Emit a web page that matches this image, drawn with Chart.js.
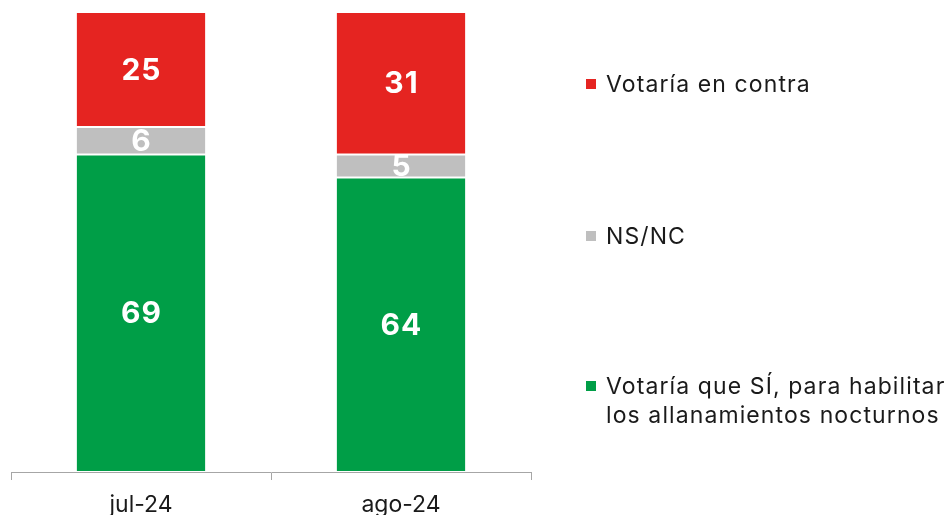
<!DOCTYPE html>
<html>
<head>
<meta charset="utf-8">
<script src="https://cdn.jsdelivr.net/npm/chart.js@4"></script>
<style>
  html, body { margin: 0; padding: 0; background: #fff; }
  #wrap { width: 949px; height: 515px; }
</style>
</head>
<body>
<div id="wrap"><canvas id="barChart"></canvas></div>
<script>
// data
const categories = ["jul-24", "ago-24"];
const votariaSi = [69, 64];
const nsNc = [6, 5];
const votariaContra = [25, 31];

const labelSi = ["Votaría que SÍ, para habilitar", "los allanamientos nocturnos"];
const labelNs = "NS/NC";
const labelContra = "Votaría en contra";

const FONT = "Inter, 'Open Sans', sans-serif";

// white numbers in the middle of each segment
const valueLabels = {
  id: "valueLabels",
  afterDatasetsDraw(chart) {
    const ctx = chart.ctx;
    ctx.save();
    ctx.fillStyle = "#fff";
    ctx.font = "bold 30px " + FONT;
    ctx.letterSpacing = "1px";
    ctx.textAlign = "center";
    ctx.textBaseline = "middle";
    chart.data.datasets.forEach((ds, i) => {
      chart.getDatasetMeta(i).data.forEach((bar, j) => {
        const y = (bar.y + bar.base) / 2;
        ctx.fillText(ds.data[j], bar.x + 0.5, y + 1);
      });
    });
    ctx.restore();
  }
};

// legend on the right, top item = last dataset
const sideLegend = {
  id: "sideLegend",
  afterDraw(chart) {
    const ctx = chart.ctx;
    const rows = [
      { ds: 2, y: 84 },
      { ds: 1, y: 236 },
      { ds: 0, y: 386 }
    ];
    ctx.save();
    ctx.font = "23px " + FONT;
    ctx.letterSpacing = "1.1px";
    ctx.textBaseline = "middle";
    rows.forEach((r) => {
      const ds = chart.data.datasets[r.ds];
      ctx.fillStyle = ds.backgroundColor;
      ctx.fillRect(586, r.y - 5, 10, 10);
      ctx.fillStyle = "#1a1a1a";
      const lines = Array.isArray(ds.label) ? ds.label : [ds.label];
      lines.forEach((t, k) => {
        ctx.fillText(t, 606, r.y + k * 29 + 1);
      });
    });
    ctx.restore();
  }
};

const ctx = document.getElementById("barChart").getContext("2d");

new Chart(ctx, {
  type: "bar",
  data: {
    labels: categories,
    datasets: [
      { label: labelSi, data: votariaSi, backgroundColor: "#009E47" },
      { label: labelNs, data: nsNc, backgroundColor: "#BFBFBF" },
      { label: labelContra, data: votariaContra, backgroundColor: "#E52421" }
    ].map((d) => ({
      ...d,
      borderColor: "#fff",
      borderWidth: { top: 1, bottom: 1, left: 0, right: 0 },
      borderSkipped: false,
      barPercentage: 0.495,
      categoryPercentage: 1
    }))
  },
  options: {
    responsive: true,
    maintainAspectRatio: false,
    animation: false,
    layout: { padding: { left: 11, right: 418, top: 12, bottom: 0 } },
    scales: {
      x: {
        stacked: true,
        grid: {
          offset: true,
          drawOnChartArea: false,
          drawTicks: true,
          tickLength: 8,
          color: "#a6a6a6"
        },
        border: { display: true, color: "#a6a6a6", width: 1 },
        ticks: {
          color: "#1a1a1a",
          font: { family: FONT, size: 23 },
          padding: 11
        },
        afterFit(scale) {
          scale.height = 43;
        }
      },
      y: {
        stacked: true,
        display: false,
        min: 0,
        max: 100
      }
    },
    plugins: {
      legend: { display: false },
      tooltip: { enabled: false }
    }
  },
  plugins: [valueLabels, sideLegend]
});
</script>
</body>
</html>
